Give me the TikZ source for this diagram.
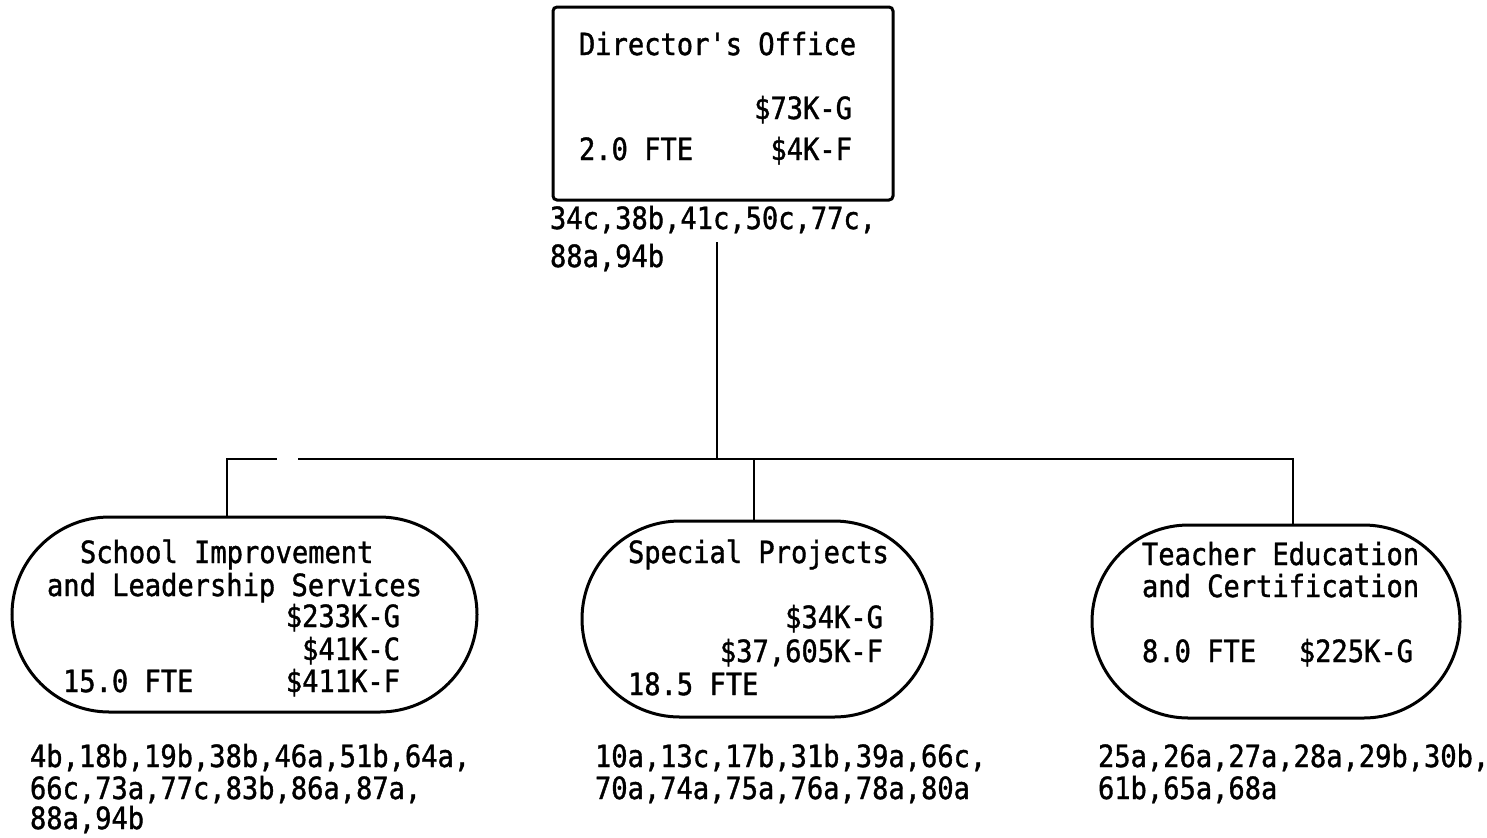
\documentclass[tikz,border=0pt]{standalone}
\usepackage{fontspec}
\newfontfamily\monofont[FakeStretch=0.885,FakeBold=1.2,Ligatures=TeXOff]{DejaVu Sans Mono}
\usetikzlibrary{shapes.misc}
\begin{document}
\begin{tikzpicture}[x=0.5pt,y=-0.5pt,
  txt/.style={inner sep=0pt, outer sep=0pt, font=\monofont\fontsize{15.3pt}{16pt}\selectfont},
  lt/.style={txt, anchor=base west},
  rt/.style={txt, anchor=base east},
  oval/.style={draw, rounded rectangle, inner sep=0pt, line width=1.5pt},
  box/.style={draw, rectangle, rounded corners=2pt, inner sep=0pt, line width=1.5pt},
  conn/.style={line width=1.4pt}]
\useasboundingbox (0,0) rectangle (1487,837);

% Director's office
\node[box, minimum width=170pt, minimum height=96.5pt] (dir) at (723,103.5) {};
\node[lt] (dt) at (579,55) {Director's Office};
\node[rt] (d73) at (852,119) {\$73K-G};
\node[lt] (dfte) at (579,160) {2.0 FTE};
\node[rt] (d4) at (852,160) {\$4K-F};
\node[lt] (dl1) at (550,229) {34c,38b,41c,50c,77c,};
\node[lt] (dl2) at (550,267) {88a,94b};

% School Improvement
\node[oval, minimum width=232.5pt, minimum height=97.5pt] (sil) at (244.5,614.5) {};
\node[lt] (s1) at (80,563) {School Improvement};
\node[lt] (s2) at (47,596) {and Leadership Services};
\node[rt] (s3) at (400,627) {\$233K-G};
\node[rt] (s4) at (400,660) {\$41K-C};
\node[lt] (s5) at (63,692) {15.0 FTE};
\node[rt] (s6) at (400,692) {\$411K-F};
\node[lt] (sl1) at (30,767) {4b,18b,19b,38b,46a,51b,64a,};
\node[lt] (sl2) at (30,799) {66c,73a,77c,83b,86a,87a,};
\node[lt] (sl3) at (30,829) {88a,94b};

% Special Projects
\node[oval, minimum width=175pt, minimum height=98pt] (sp) at (757,619) {};
\node[lt] (p1) at (628,563) {Special Projects};
\node[rt] (p2) at (883,628) {\$34K-G};
\node[rt] (p3) at (883,662) {\$37,605K-F};
\node[lt] (p4) at (628,695) {18.5 FTE};
\node[lt] (pl1) at (595,767) {10a,13c,17b,31b,39a,66c,};
\node[lt] (pl2) at (595,799) {70a,74a,75a,76a,78a,80a};

% Teacher Education
\node[oval, minimum width=184pt, minimum height=96.5pt] (te) at (1276,621.5) {};
\node[lt] (t1) at (1142,565) {Teacher Education};
\node[lt] (t2) at (1142,597) {and Certification};
\node[lt] (t3) at (1142,662) {8.0 FTE};
\node[rt] (t4) at (1413,662) {\$225K-G};
\node[lt] (tl1) at (1098,767) {25a,26a,27a,28a,29b,30b,};
\node[lt] (tl2) at (1098,799) {61b,65a,68a};

% connectors
\coordinate (top) at (717,242);
\coordinate (j0) at (717,459);
\coordinate (bl) at (227,459);
\coordinate (g1) at (277,459);
\coordinate (g2) at (298,459);
\coordinate (br) at (1293,459);
\coordinate (jm) at (754,459);
\draw[conn] (top) -- (j0);
\draw[conn] (bl |- sil.north) -- (bl) -- (g1);
\draw[conn] (g2) -- (br) -- (br |- te.north);
\draw[conn] (jm) -- (jm |- sp.north);
\end{tikzpicture}
\end{document}
